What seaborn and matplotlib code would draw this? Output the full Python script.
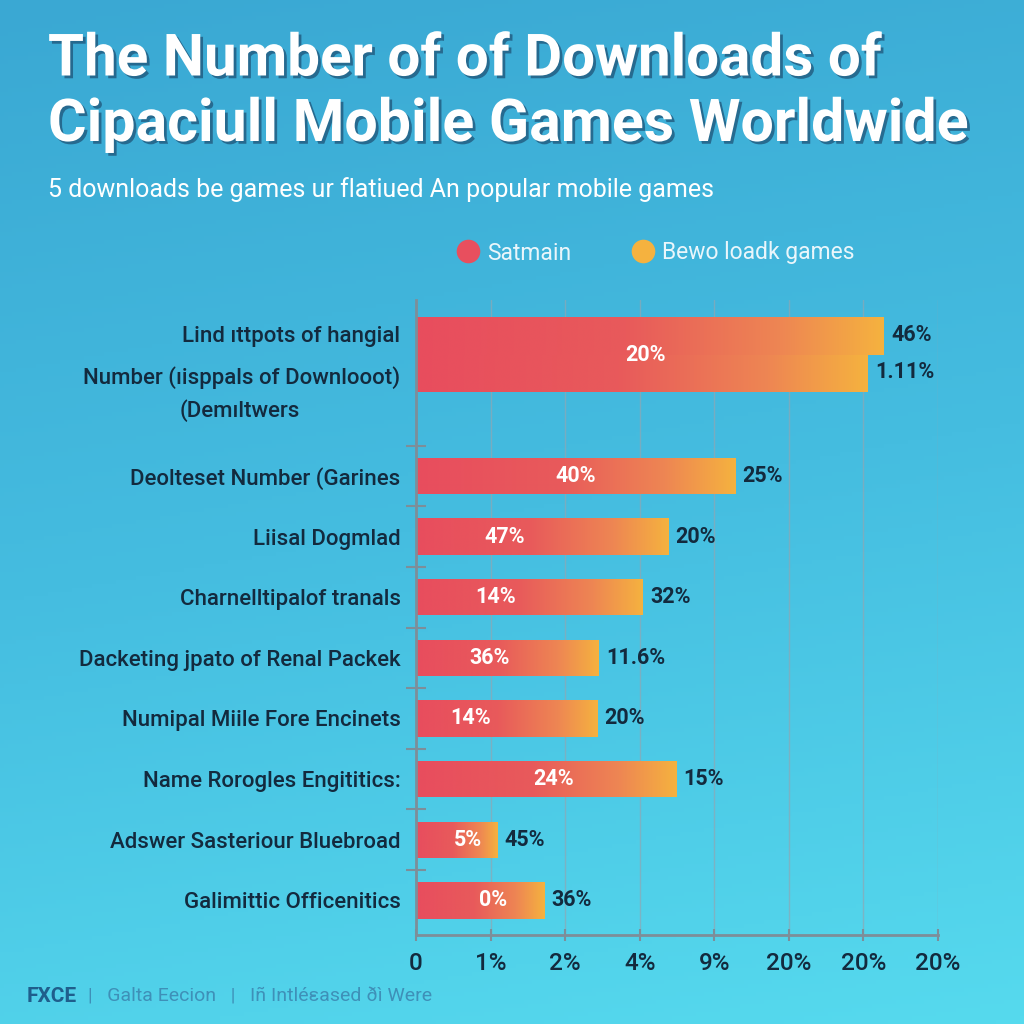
import numpy as np
import pandas as pd
import matplotlib
matplotlib.use("Agg")
import matplotlib.pyplot as plt
import matplotlib.patheffects as pe
from matplotlib.colors import LinearSegmentedColormap
from matplotlib.lines import Line2D
import seaborn as sns

# ---------------- data ----------------
title_lines = ["The Number of of Downloads of", "Cipaciull Mobile Games Worldwide"]
subtitle = "5 downloads be games ur flatiued An popular mobile games"
legend_labels = ["Satmain", "Bewo loadk games"]

first_cat_lines = ["Lind ıttpots of hangial", "Number (ıisppals of Downlooot)", "(Demıltwers"]
categories = ["Deolteset Number (Garines", "Liisal Dogmlad", "Charnelltipalof tranals",
              "Dacketing jpato of Renal Packek", "Numipal Miile Fore Encinets",
              "Name Rorogles Engititics:", "Adswer Sasteriour Bluebroad",
              "Galimittic Officenitics"]
# bar lengths in tick-step units (axis ticks are evenly spaced)
first_cat_values = [6.27, 6.06]
first_cat_inner = "20%"
first_cat_outer = ["46%", "1.11%"]
values = [4.28, 3.38, 3.04, 2.45, 2.43, 3.49, 1.09, 1.72]
inner_labels = ["40%", "47%", "14%", "36%", "14%", "24%", "5%", "0%"]
outer_labels = ["25%", "20%", "32%", "11.6%", "20%", "15%", "45%", "36%"]
xtick_labels = ["0", "1%", "2%", "4%", "9%", "20%", "20%", "20%"]
footer_brand = "FXCE"
footer_rest = ["Galta Eecion", "Iñ Intléεased ðì Were"]

# ---------------- style ----------------
RED = "#E84F5E"
ORANGE = "#F5B23F"
NAVY = "#132A3E"
inner_frac = [0.5, 0.35, 0.35, 0.40, 0.30, 0.53, 0.64, 0.60]

sns.set_theme(style="white")
plt.rcParams["font.family"] = ["Roboto", "DejaVu Sans"]

W = H = 1024
fig = plt.figure(figsize=(10.24, 10.24), dpi=100)

# background gradient
bg = fig.add_axes([0, 0, 1, 1], zorder=-10)
bg_cmap = LinearSegmentedColormap.from_list("bg", ["#3AA8D3", "#45BDE0", "#56DAEE"])
yy, xx = np.mgrid[0:1:256j, 0:1:256j]
bg.imshow(0.85 * yy + 0.15 * xx, cmap=bg_cmap, aspect="auto", extent=[0, 1, 1, 0])
bg.set_axis_off()

ax = fig.add_axes([416 / W, 1 - 935 / H, (938 - 416) / W, (935 - 300) / H])
ax.patch.set_alpha(0)

df_main = pd.DataFrame({"value": values, "pos": np.arange(2, 2 + len(values)).astype(float)})
df_first = pd.DataFrame({"value": first_cat_values, "pos": [-0.31, 0.31]})

sns.barplot(data=df_first, x="value", y="pos", orient="h", native_scale=True,
            width=1.0, color=RED, ax=ax, errorbar=None, zorder=2)
sns.barplot(data=df_main, x="value", y="pos", orient="h", native_scale=True,
            width=0.6, color=RED, ax=ax, errorbar=None, zorder=2)

grad_cmap = LinearSegmentedColormap.from_list(
    "bar", [(0, "#E84D5E"), (0.45, "#E85A5B"), (0.78, "#EE8653"), (1.0, ORANGE)])
grad = np.linspace(0, 1, 256).reshape(1, -1)
for p in list(ax.patches):
    x0, y0, w, h = p.get_x(), p.get_y(), p.get_width(), p.get_height()
    im = ax.imshow(grad, cmap=grad_cmap, aspect="auto", extent=[x0, x0 + w, y0 + h, y0],
                   zorder=2, interpolation="bicubic")
    im.set_clip_path(p)
    p.set_facecolor("none")
    p.set_edgecolor("none")

ax.set_xlim(0, 7)
ax.set_ylim(9.57, -0.90)
ax.set_aspect("auto")

# labels
lab_kw = dict(fontsize=15.5, fontweight="bold", clip_on=False)
for i, (v, pos) in enumerate(zip(values, df_main["pos"])):
    ax.text(v * inner_frac[i], pos, inner_labels[i], color="white", ha="center",
            va="center", zorder=5, **lab_kw)
    ax.text(v + 0.1, pos, outer_labels[i], color=NAVY, ha="left", va="center",
            zorder=5, **lab_kw)
ax.text(np.mean(first_cat_values) * 0.5, 0.0, first_cat_inner, color="white",
        ha="center", va="center", zorder=5, **lab_kw)
for v, pos, t in zip(first_cat_values, df_first["pos"], first_cat_outer):
    ax.text(v + 0.1, pos - 0.02, t, color=NAVY, ha="left", va="center", zorder=5, **lab_kw)

# axes styling
ax.set_xticks(range(len(xtick_labels)))
ax.set_xticklabels(xtick_labels, fontsize=17.5, color=NAVY, fontweight="medium")
ax.set_yticks(df_main["pos"])
ax.set_yticklabels(categories, fontsize=16, color=NAVY, fontweight="medium")
ax.set_yticks(np.arange(1.5, 9, 1.0), minor=True)
ax.tick_params(axis="y", which="major", length=0, pad=11)
ax.tick_params(axis="y", which="minor", length=14, width=1.5, direction="inout",
               color="#7D8E99", left=True)
ax.tick_params(axis="x", which="major", length=9, width=1.5, direction="inout",
               color="#7D8E99", pad=8, bottom=True)
ax.set_xlabel("")
ax.set_ylabel("")
ax.grid(axis="x", color="#8FA7B4", lw=1.0, alpha=0.7, zorder=0)
ax.grid(axis="y", visible=False)
ax.set_axisbelow(True)
for s in ["top", "right"]:
    ax.spines[s].set_visible(False)
for s in ["left", "bottom"]:
    ax.spines[s].set_color("#7D8E99")
    ax.spines[s].set_linewidth(2)

# first category multi-line label
ytr = ax.get_yaxis_transform()
fy = [-0.29, 0.38, 0.93]
for i, (t, y) in enumerate(zip(first_cat_lines, fy)):
    if i < 2:
        ax.text(-16 / 522, y, t, transform=ytr, ha="right", va="center",
                fontsize=16, color=NAVY, fontweight="medium")
    else:
        ax.text(-(416 - 240) / 522, y, t, transform=ytr, ha="center", va="center",
                fontsize=16, color=NAVY, fontweight="medium")

# title
shadow = [pe.withSimplePatchShadow(offset=(2, -2), shadow_rgbFace="#1D4E72", alpha=0.7)]
fig.text(48 / W, 1 - 60 / H, title_lines[0], fontsize=42, fontweight="bold", color="white",
         va="center", ha="left", path_effects=shadow)
fig.text(48 / W, 1 - 125 / H, title_lines[1], fontsize=42.5, fontweight="bold", color="white",
         va="center", ha="left", path_effects=shadow)
fig.text(48 / W, 1 - 190 / H, subtitle, fontsize=18, color="white", va="center", ha="left")

# legend
handles = [Line2D([0], [0], marker="o", ls="", markersize=17, markerfacecolor=c,
                  markeredgecolor="none") for c in [RED, ORANGE]]
leg = fig.legend(handles, legend_labels, loc="center left", bbox_to_anchor=(436 / W, 1 - 253 / H),
                 ncol=2, frameon=False, fontsize=16.5, handletextpad=0.35, columnspacing=2.6,
                 handlelength=1.0)
for t in leg.get_texts():
    t.set_color("#EAF6FB")

# footer
fig.text(27 / W, 1 - 997 / H, footer_brand, fontsize=15, fontweight="bold", color="#1F5E8C",
         va="center", ha="left")
fig.text(88 / W, 1 - 997 / H, "|   " + footer_rest[0] + "   |   " + footer_rest[1], fontsize=14,
         color="#3E90B8", va="center", ha="left")

fig.savefig("out.png", dpi=100)
